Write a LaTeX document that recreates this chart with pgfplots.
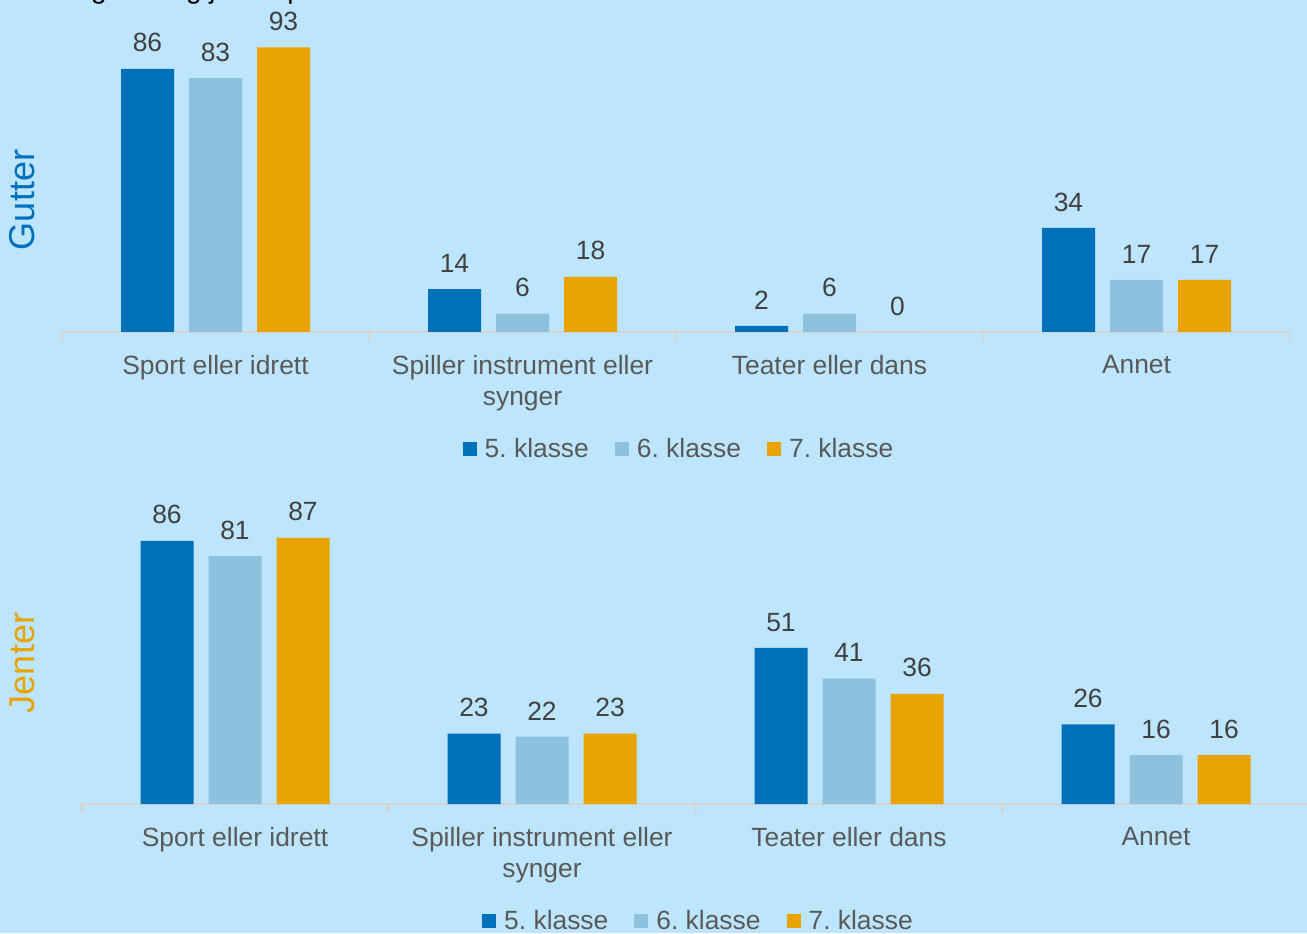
\documentclass[border=0pt]{standalone}
\usepackage{fontspec}
\setmainfont{Liberation Sans}
\usepackage{pgfplots}
\pgfplotsset{compat=1.18}

\definecolor{bgblue}{HTML}{BDE5FD}
\definecolor{k5}{HTML}{0070BA}
\definecolor{k6}{HTML}{8EC1DE}
\definecolor{k7}{HTML}{E8A300}
\definecolor{axgray}{HTML}{D4D4D4}
\definecolor{txtgray}{HTML}{595959}
\definecolor{valgray}{HTML}{404040}

\newcommand{\lbl}{\fontsize{13.2}{15.5}\selectfont}

\pgfplotsset{
  sq legend/.style={legend image code/.code={\fill[##1] (0pt,-3.5pt) rectangle (7pt,3.5pt); \path (9pt,0pt);}},
  klasse/.style={
    width=614pt, height=153pt, scale only axis,
    ybar=7.5pt, bar width=26.5pt,
    ymin=0, ymax=100,
    xmin=-0.5, xmax=3.5,
    axis x line*=bottom, axis y line=none,
    every outer x axis line/.append style={-, draw=axgray, line width=1.2pt},
    xtick={0,1,2,3},
    xticklabels={Sport eller idrett, {Spiller instrument eller\\synger}, Teater eller dans, Annet},
    minor xtick={-0.5,0.5,1.5,2.5,3.5},
    major tick length=0pt, minor tick length=4.5pt, tick align=outside,
    minor tick style={draw=axgray, line width=1.2pt},
    xticklabel style={align=center, font=\lbl, text=txtgray, yshift=-8pt},
    nodes near coords,
    every node near coord/.append style={font=\lbl, text=valgray, yshift=4.8pt},
    /pgf/number format/assume math mode=true,
    clip=false,
    legend columns=3,
    legend style={at={(0.5,0)}, anchor=center, yshift=-58.5pt, xshift=2pt, draw=none, fill=none,
      font=\lbl, text=txtgray,
      /tikz/every even column/.append style={column sep=11pt}},
  },
}

\begin{document}
\begin{tikzpicture}
\useasboundingbox (0,0) rectangle (653.5pt,466.5pt);
\fill[bgblue] (0,0) rectangle (653.5pt,466.5pt);
\begin{scope}
\clip (0,0) rectangle (653.5pt,466.5pt);
\node[anchor=base west, font=\fontsize{14}{16}\selectfont, text=black, inner sep=0pt] at (20.5pt,467.2pt) {For gutter og jenter per klassetrinn};
\end{scope}

\node[rotate=90, font=\fontsize{18}{20}\selectfont, text=k5] at (11pt,366.5pt) {Gutter};
\node[rotate=90, font=\fontsize{18}{20}\selectfont, text=k7] at (11pt,135pt) {Jenter};

% Gutter
\begin{axis}[klasse, at={(31pt,300.5pt)}, anchor=south west]
\addplot[fill=k5, draw=none, sq legend] coordinates {(0,86) (1,14) (2,2) (3,34)};
\addplot[fill=k6, draw=none, sq legend] coordinates {(0,83) (1,6) (2,6) (3,17)};
\addplot[fill=k7, draw=none, sq legend] coordinates {(0,93) (1,18) (2,0) (3,17)};
\legend{5.\ klasse, 6.\ klasse, 7.\ klasse}
\end{axis}

% Jenter
\begin{axis}[klasse, at={(40.75pt,64.5pt)}, anchor=south west]
\addplot[fill=k5, draw=none, sq legend] coordinates {(0,86) (1,23) (2,51) (3,26)};
\addplot[fill=k6, draw=none, sq legend] coordinates {(0,81) (1,22) (2,41) (3,16)};
\addplot[fill=k7, draw=none, sq legend] coordinates {(0,87) (1,23) (2,36) (3,16)};
\legend{5.\ klasse, 6.\ klasse, 7.\ klasse}
\end{axis}
\end{tikzpicture}
\end{document}
